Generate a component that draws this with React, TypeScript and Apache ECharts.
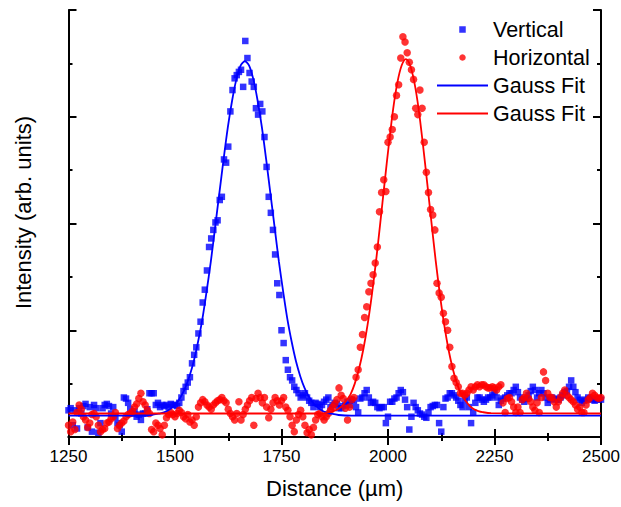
import React, { useEffect, useRef } from "react";
import * as echarts from "echarts";

// x positions of the measured points (µm): 1250 .. 2500, 5 µm apart
const xStart = 1250;
const xStep = 5;

// Vertical profile (blue squares), arb. units
const verticalValues = [
  0.25, 0.27, 0.11, 0.25, 0.08, 0.27, 0.22, 0.29, 0.31, 0.09,
  0.28, 0.05, 0.30, 0.27, 0.04, 0.13, 0.27, 0.30, 0.31, 0.29,
  0.22, 0.28, 0.19, 0.13, 0.11, 0.05, 0.37, 0.36, 0.32, 0.26,
  0.22, 0.24, 0.19, 0.21, 0.16, 0.22, 0.22, 0.26, 0.41, 0.41,
  0.41, 0.30, 0.32, 0.28, 0.30, 0.29, 0.30, 0.28, 0.31, 0.30,
  0.30, 0.29, 0.32, 0.37, 0.43, 0.47, 0.51, 0.56, 0.69, 0.77,
  0.84, 0.97, 1.08, 1.26, 1.38, 1.56, 1.78, 1.86, 1.94, 2.01,
  2.03, 2.22, 2.25, 2.60, 2.57, 2.72, 3.05, 3.25, 3.36, 3.39,
  3.42, 3.44, 3.28, 3.71, 3.55, 3.41, 3.33, 3.28, 3.08, 3.02,
  3.12, 3.05, 2.81, 2.53, 2.25, 2.10, 1.94, 1.71, 1.44, 1.33,
  1.00, 0.88, 0.72, 0.63, 0.56, 0.53, 0.47, 0.44, 0.41, 0.37,
  0.39, 0.41, 0.37, 0.34, 0.32, 0.28, 0.32, 0.31, 0.28, 0.30,
  0.33, 0.35, 0.37, 0.28, 0.30, 0.32, 0.31, 0.27, 0.27, 0.29,
  0.30, 0.33, 0.30, 0.35, 0.34, 0.28, 0.23, 0.36, 0.37, 0.41,
  0.44, 0.37, 0.32, 0.33, 0.32, 0.28, 0.27, 0.28, 0.28, 0.13,
  0.19, 0.33, 0.33, 0.36, 0.37, 0.41, 0.44, 0.42, 0.35, 0.28,
  0.07, 0.19, 0.32, 0.28, 0.25, 0.22, 0.21, 0.19, 0.18, 0.23,
  0.28, 0.29, 0.30, 0.30, 0.13, 0.05, 0.28, 0.36, 0.37, 0.41,
  0.41, 0.39, 0.37, 0.34, 0.30, 0.28, 0.34, 0.37, 0.28, 0.13,
  0.23, 0.32, 0.37, 0.37, 0.35, 0.33, 0.35, 0.37, 0.37, 0.39,
  0.42, 0.37, 0.30, 0.34, 0.36, 0.37, 0.39, 0.41, 0.41, 0.44,
  0.47, 0.42, 0.37, 0.35, 0.33, 0.36, 0.39, 0.43, 0.47, 0.44,
  0.37, 0.41, 0.44, 0.41, 0.37, 0.32, 0.35, 0.37, 0.36, 0.35,
  0.35, 0.37, 0.39, 0.42, 0.43, 0.47, 0.53, 0.47, 0.42, 0.37,
  0.35, 0.32, 0.34, 0.35, 0.37, 0.36, 0.35, 0.34, 0.35, 0.36,
  0.35,
];

// Horizontal profile (red circles), arb. units
const horizontalValues = [
  0.11, 0.05, 0.14, 0.07, 0.23, 0.30, 0.26, 0.19, 0.16, 0.09,
  0.13, 0.21, 0.22, 0.19, 0.11, 0.05, 0.07, 0.08, 0.13, 0.14,
  0.17, 0.19, 0.23, 0.08, 0.11, 0.13, 0.15, 0.19, 0.21, 0.22,
  0.24, 0.28, 0.31, 0.36, 0.41, 0.33, 0.30, 0.25, 0.22, 0.07,
  0.05, 0.13, 0.11, 0.08, 0.02, 0.11, 0.18, 0.21, 0.23, 0.21,
  0.19, 0.22, 0.25, 0.23, 0.19, 0.17, 0.21, 0.14, 0.16, 0.11,
  0.19, 0.28, 0.32, 0.35, 0.33, 0.30, 0.28, 0.26, 0.30, 0.32,
  0.34, 0.35, 0.37, 0.34, 0.32, 0.26, 0.22, 0.19, 0.16, 0.22,
  0.33, 0.16, 0.21, 0.26, 0.30, 0.34, 0.37, 0.11, 0.36, 0.41,
  0.37, 0.32, 0.37, 0.28, 0.18, 0.26, 0.32, 0.37, 0.34, 0.30,
  0.34, 0.37, 0.28, 0.25, 0.19, 0.11, 0.05, 0.16, 0.21, 0.25,
  0.19, 0.11, 0.04, 0.07, 0.02, 0.09, 0.16, 0.21, 0.22, 0.19,
  0.16, 0.19, 0.22, 0.25, 0.28, 0.31, 0.35, 0.46, 0.39, 0.36,
  0.27, 0.16, 0.28, 0.35, 0.37, 0.56, 0.63, 0.84, 0.96, 1.12,
  1.22, 1.36, 1.44, 1.52, 1.63, 1.78, 2.11, 2.29, 2.41, 2.30,
  2.76, 2.81, 2.88, 3.00, 3.20, 3.30, 3.55, 3.75, 3.70, 3.60,
  3.51, 3.44, 3.35, 3.08, 3.02, 3.25, 3.08, 2.76, 2.48, 2.29,
  2.13, 2.08, 1.94, 1.44, 1.35, 1.31, 1.16, 1.08, 1.00, 0.84,
  0.66, 0.55, 0.51, 0.47, 0.41, 0.41, 0.39, 0.41, 0.44, 0.47,
  0.44, 0.47, 0.49, 0.47, 0.49, 0.49, 0.47, 0.46, 0.46, 0.47,
  0.46, 0.44, 0.47, 0.49, 0.32, 0.23, 0.36, 0.37, 0.33, 0.28,
  0.23, 0.28, 0.23, 0.35, 0.37, 0.41, 0.36, 0.33, 0.28, 0.25,
  0.32, 0.23, 0.37, 0.61, 0.53, 0.41, 0.37, 0.37, 0.33, 0.28,
  0.33, 0.37, 0.41, 0.44, 0.39, 0.37, 0.35, 0.33, 0.30, 0.26,
  0.28, 0.23, 0.23, 0.30, 0.35, 0.37, 0.41, 0.39, 0.37, 0.36,
  0.37,
];

// Gauss fit of the vertical profile: [x (µm), intensity]
const verticalFit = [
  [1250, 0.2], [1414, 0.2], [1444, 0.206], [1464, 0.22], [1474, 0.23],
  [1484, 0.25], [1494, 0.28], [1504, 0.32], [1514, 0.38], [1524, 0.46],
  [1534, 0.57], [1544, 0.71], [1554, 0.89], [1564, 1.1], [1574, 1.36],
  [1584, 1.64], [1594, 1.96], [1604, 2.28], [1614, 2.6], [1624, 2.9],
  [1634, 3.15], [1644, 3.35], [1654, 3.48], [1664, 3.52], [1674, 3.48],
  [1684, 3.35], [1694, 3.15], [1704, 2.9], [1714, 2.6], [1724, 2.28],
  [1734, 1.96], [1744, 1.64], [1754, 1.36], [1764, 1.1], [1774, 0.89],
  [1784, 0.71], [1794, 0.57], [1804, 0.46], [1814, 0.38], [1824, 0.32],
  [1834, 0.28], [1844, 0.25], [1854, 0.23], [1864, 0.22], [1884, 0.206],
  [1914, 0.2], [2500, 0.2],
];

// Gauss fit of the horizontal profile: [x (µm), intensity]
const horizontalFit = [
  [1250, 0.22], [1842, 0.22], [1862, 0.233], [1872, 0.243], [1882, 0.26],
  [1892, 0.29], [1902, 0.34], [1912, 0.4], [1922, 0.5], [1932, 0.64],
  [1942, 0.82], [1952, 1.05], [1962, 1.33], [1972, 1.65], [1982, 2.01],
  [1992, 2.38], [2002, 2.74], [2012, 3.07], [2022, 3.32], [2032, 3.48],
  [2042, 3.54], [2052, 3.48], [2062, 3.32], [2072, 3.07], [2082, 2.74],
  [2092, 2.38], [2102, 2.01], [2112, 1.65], [2122, 1.33], [2132, 1.05],
  [2142, 0.82], [2152, 0.64], [2162, 0.5], [2172, 0.4], [2182, 0.34],
  [2192, 0.29], [2202, 0.26], [2212, 0.243], [2222, 0.233], [2242, 0.223],
  [2500, 0.22],
];

const legendNames = ["Vertical", "Horizontal", "Gauss Fit", "Gauss Fit "];
const xTicks = { min: 1250, max: 2500, interval: 250 };
const yTicks = { min: 0, max: 4, interval: 1 };

const FONT = "'Liberation Sans', Arial, sans-serif";
const SQUARE_ICON = "path://M0,0h6v6h-6z";
const LINE_ICON = "path://M0,0h51v2h-51z";

export default function App() {
  const ref = useRef<HTMLDivElement>(null);

  useEffect(() => {
    if (!ref.current) return;
    const chart = echarts.init(ref.current, undefined, { renderer: "svg" });

    const toPairs = (vals: number[]) =>
      vals.map((v, i) => [xStart + i * xStep, v]);

    const frameLine = { show: true, lineStyle: { color: "#000", width: 2 } };
    const tick = { show: true, inside: true, length: 8, lineStyle: { color: "#000", width: 2 } };
    const minor = { show: true, splitNumber: 2, length: 4, lineStyle: { color: "#000", width: 2 } };

    chart.setOption({
      animation: false,
      backgroundColor: "#fff",
      textStyle: { fontFamily: FONT },
      grid: {
        left: 68.5,
        right: 20,
        top: 10,
        bottom: 70,
        containLabel: false,
        outerBoundsMode: "none",
      },
      legend: {
        data: [
          { name: legendNames[0], icon: SQUARE_ICON },
          { name: legendNames[1], icon: "circle" },
          { name: legendNames[2], icon: LINE_ICON },
          { name: legendNames[3], icon: LINE_ICON },
        ],
        orient: "vertical",
        left: 437,
        top: 18.5,
        padding: 0,
        itemWidth: 51,
        itemHeight: 6.5,
        itemGap: 6,
        symbolKeepAspect: true,
        textStyle: { fontSize: 21.5, color: "#000", fontFamily: FONT },
        selectedMode: false,
      },
      xAxis: [
        {
          type: "value",
          position: "bottom",
          min: xTicks.min,
          max: xTicks.max,
          interval: xTicks.interval,
          name: "Distance (µm)",
          nameLocation: "middle",
          nameGap: 40,
          nameTextStyle: { fontSize: 22, color: "#000", fontFamily: FONT },
          axisLine: frameLine,
          axisTick: tick,
          minorTick: minor,
          splitLine: { show: false },
          axisLabel: {
            show: true,
            fontSize: 17,
            color: "#000",
            margin: 11,
            fontFamily: FONT,
            formatter: (v: number) => String(v),
          },
        },
        {
          type: "value",
          position: "top",
          min: xTicks.min,
          max: xTicks.max,
          interval: xTicks.interval,
          axisLine: frameLine,
          axisTick: tick,
          minorTick: minor,
          splitLine: { show: false },
          axisLabel: { show: false },
        },
      ],
      yAxis: [
        {
          type: "value",
          position: "left",
          min: yTicks.min,
          max: yTicks.max,
          interval: yTicks.interval,
          name: "Intensity (arb. units)",
          nameLocation: "middle",
          nameRotate: 90,
          nameGap: 34,
          nameTextStyle: { fontSize: 22, color: "#000", fontFamily: FONT, padding: [0, 0, 0, 22] },
          axisLine: frameLine,
          axisTick: tick,
          minorTick: minor,
          splitLine: { show: false },
          axisLabel: { show: false },
        },
        {
          type: "value",
          position: "right",
          min: yTicks.min,
          max: yTicks.max,
          interval: yTicks.interval,
          axisLine: frameLine,
          axisTick: tick,
          minorTick: minor,
          splitLine: { show: false },
          axisLabel: { show: false },
        },
      ],
      series: [
        {
          name: legendNames[0],
          type: "scatter",
          symbol: "rect",
          symbolSize: 6.5,
          itemStyle: { color: "#0000ff" },
          data: toPairs(verticalValues),
        },
        {
          name: legendNames[1],
          type: "scatter",
          symbol: "circle",
          symbolSize: 7.5,
          itemStyle: { color: "#ff0000" },
          data: toPairs(horizontalValues),
        },
        {
          name: legendNames[2],
          type: "line",
          showSymbol: false,
          symbol: "none",
          smooth: 0.3,
          lineStyle: { color: "#0000ff", width: 1.8 },
          itemStyle: { color: "#0000ff" },
          data: verticalFit,
        },
        {
          name: legendNames[3],
          type: "line",
          showSymbol: false,
          symbol: "none",
          smooth: 0.3,
          lineStyle: { color: "#ff0000", width: 1.8 },
          itemStyle: { color: "#ff0000" },
          data: horizontalFit,
        },
      ],
    });

    return () => chart.dispose();
  }, []);

  return (
    <div
      ref={ref}
      style={{ position: "absolute", left: 0, top: 0, width: 621, height: 507, background: "#fff" }}
    />
  );
}
